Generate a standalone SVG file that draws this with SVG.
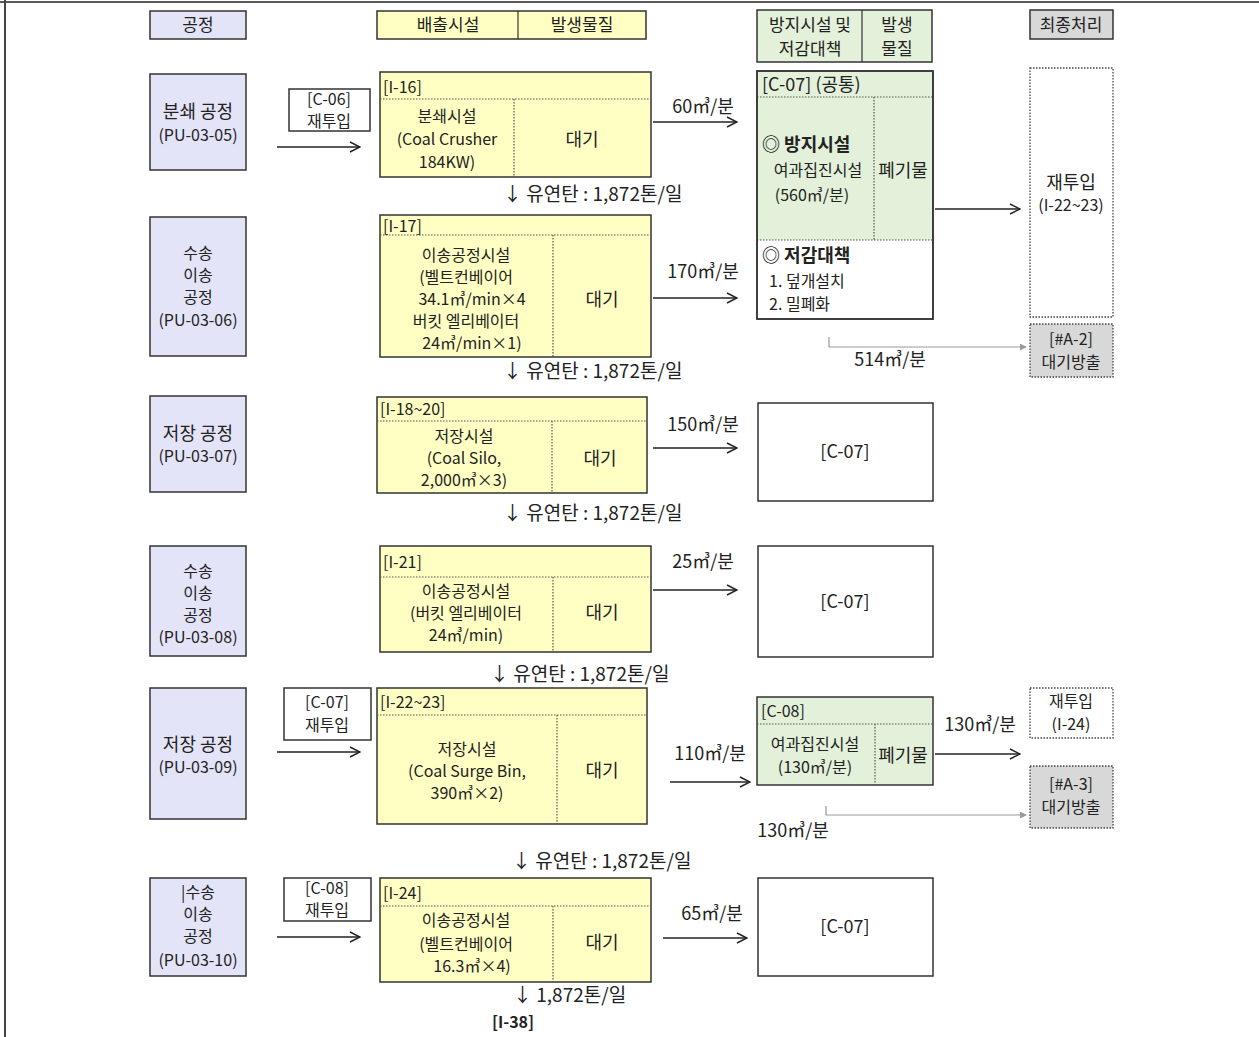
<svg xmlns="http://www.w3.org/2000/svg" width="1259" height="1037" viewBox="0 0 1259 1037">
<style>
text{font-family:"Noto Sans CJK KR","Noto Sans",sans-serif;font-size:16px;fill:#222;}
.m{text-anchor:middle;}
.b{font-weight:bold;}
.h{font-size:17px;}
.l{font-size:18px;}
.f{font-size:19px;}
.box{stroke:#333;stroke-width:1.5;}
.proc{fill:#e4e4f8;}
.yel{fill:#ffffc4;}
.grn{fill:#e3f0da;}
.wht{fill:#fff;}
.gry{fill:#d8d8d8;}
.dot{fill:none;stroke:#555;stroke-width:1.2;stroke-dasharray:1.5,1.5;}
.dbox{stroke:#444;stroke-width:1.3;stroke-dasharray:1.5,1.5;}
.arr{stroke:#222;stroke-width:1.5;fill:none;marker-end:url(#ah);}
.garr{stroke:#999;stroke-width:1.2;fill:none;marker-end:url(#gh);}
</style>
<defs>
<marker id="ah" viewBox="0 0 12 12" refX="11" refY="6" markerWidth="12" markerHeight="12" markerUnits="userSpaceOnUse" orient="auto"><polyline points="1,1 11,6 1,11" fill="none" stroke="#222" stroke-width="1.4"/></marker>
<marker id="gh" viewBox="0 0 8 8" refX="7" refY="4" markerWidth="7" markerHeight="7" markerUnits="userSpaceOnUse" orient="auto"><path d="M0,0 L8,4 L0,8 z" fill="#999"/></marker>
</defs>
<rect width="1259" height="1037" fill="#fff"/>
<line x1="0" y1="2" x2="1259" y2="2" stroke="#222" stroke-width="1.5"/>
<line x1="5" y1="0" x2="5" y2="1037" stroke="#444" stroke-width="2"/>

<!-- headers -->
<g id="hdr-process"><rect class="box proc" x="150" y="11" width="96" height="28"/><text class="m h" x="198" y="31">공정</text></g>
<g id="hdr-emission"><rect class="box yel" x="377" y="11" width="269" height="28"/><line x1="518" y1="11" x2="518" y2="39" stroke="#333" stroke-width="1.2"/><text class="m h" x="448" y="31">배출시설</text><text class="m h" x="582" y="31">발생물질</text></g>
<g id="hdr-control"><rect class="box grn" x="757" y="10" width="175" height="52"/><line x1="862" y1="10" x2="862" y2="62" stroke="#333" stroke-width="1.2"/><text class="m h" x="810" y="31">방지시설 및</text><text class="m h" x="810" y="55">저감대책</text><text class="m h" x="897" y="31">발생</text><text class="m h" x="897" y="55">물질</text></g>
<g id="hdr-final"><rect class="box gry" x="1030" y="10" width="83" height="29"/><text class="m h" x="1071" y="31">최종처리</text></g>

<!-- row 1 -->
<g id="p1"><rect class="box proc" x="150" y="74" width="96" height="96"/><text class="m l" x="198" y="118">분쇄 공정</text><text class="m" x="198" y="141">(PU-03-05)</text></g>
<g id="r1"><rect class="box wht" x="289" y="89" width="81" height="42"/><text class="m" x="329" y="105">[C-06]</text><text class="m" x="329" y="127">재투입</text></g>
<g id="I16"><rect class="box yel" x="380" y="72" width="271" height="105"/><line class="dot" x1="380" y1="99" x2="651" y2="99"/><line class="dot" x1="514" y1="99" x2="514" y2="177"/>
<text x="383" y="93">[I-16]</text><text class="m" x="447" y="122">분쇄시설</text><text class="m" x="447" y="145">(Coal Crusher</text><text class="m" x="447" y="168">184KW)</text><text class="m l" x="582" y="146">대기</text></g>
<g id="C07"><rect class="box wht" x="757" y="71" width="176" height="248"/><rect class="grn" x="758" y="72" width="174" height="168"/>
<line class="dot" x1="757" y1="97" x2="933" y2="97"/><line class="dot" x1="874" y1="97" x2="874" y2="240"/><line class="dot" x1="757" y1="240" x2="933" y2="240"/>
<rect x="757" y="71" width="176" height="248" fill="none" class="box"/>
<text class="l" x="762" y="91">[C-07] (공통)</text>
<text class="b l" x="762" y="151">◎ 방지시설</text><text class="m" x="818" y="176">여과집진시설</text><text class="m" x="812" y="201">(560㎥/분)</text><text class="m l" x="903" y="177">폐기물</text>
<text class="b l" x="762" y="262">◎ 저감대책</text><text x="769" y="287">1. 덮개설치</text><text x="769" y="310">2. 밀폐화</text></g>
<g id="F1"><rect class="dbox wht" x="1030" y="68" width="83" height="249"/><text class="m l" x="1071" y="189">재투입</text><text class="m" x="1071" y="211">(I-22~23)</text></g>
<g id="A2"><rect class="dbox gry" x="1030" y="324" width="83" height="53"/><text class="m" x="1071" y="345">[#A-2]</text><text class="m" x="1071" y="368">대기방출</text></g>

<!-- row 2 -->
<g id="p2"><rect class="box proc" x="150" y="217" width="96" height="139"/><text class="m" x="198" y="259">수송</text><text class="m" x="198" y="281">이송</text><text class="m" x="198" y="303">공정</text><text class="m" x="198" y="326">(PU-03-06)</text></g>
<g id="I17"><rect class="box yel" x="380" y="215" width="271" height="142"/><line class="dot" x1="380" y1="235" x2="651" y2="235"/><line class="dot" x1="553" y1="235" x2="553" y2="357"/>
<text x="383" y="232">[I-17]</text><text class="m" x="466" y="261">이송공정시설</text><text class="m" x="466" y="283">(벨트컨베이어</text><text class="m" x="472" y="305">34.1㎥/min×4</text><text class="m" x="466" y="327">버킷 엘리베이터</text><text class="m" x="472" y="349">24㎥/min×1)</text><text class="m l" x="602" y="306">대기</text></g>

<!-- row 3 -->
<g id="p3"><rect class="box proc" x="150" y="396" width="96" height="96"/><text class="m l" x="198" y="440">저장 공정</text><text class="m" x="198" y="462">(PU-03-07)</text></g>
<g id="I18"><rect class="box yel" x="377" y="397" width="270" height="96"/><line class="dot" x1="377" y1="421" x2="647" y2="421"/><line class="dot" x1="552" y1="421" x2="552" y2="493"/>
<text x="380" y="415">[I-18~20]</text><text class="m" x="464" y="442">저장시설</text><text class="m" x="464" y="464">(Coal Silo,</text><text class="m" x="464" y="486">2,000㎥×3)</text><text class="m l" x="600" y="465">대기</text></g>
<g id="C07b"><rect class="box wht" x="758" y="403" width="175" height="98"/><text class="m l" x="845" y="458">[C-07]</text></g>

<!-- row 4 -->
<g id="p4"><rect class="box proc" x="150" y="546" width="96" height="110"/><text class="m" x="198" y="577">수송</text><text class="m" x="198" y="599">이송</text><text class="m" x="198" y="621">공정</text><text class="m" x="198" y="643">(PU-03-08)</text></g>
<g id="I21"><rect class="box yel" x="380" y="546" width="271" height="106"/><line class="dot" x1="380" y1="577" x2="651" y2="577"/><line class="dot" x1="553" y1="577" x2="553" y2="652"/>
<text x="383" y="568">[I-21]</text><text class="m" x="466" y="597">이송공정시설</text><text class="m" x="466" y="619">(버킷 엘리베이터</text><text class="m" x="466" y="641">24㎥/min)</text><text class="m l" x="602" y="619">대기</text></g>
<g id="C07c"><rect class="box wht" x="758" y="546" width="175" height="111"/><text class="m l" x="845" y="608">[C-07]</text></g>

<!-- row 5 -->
<g id="p5"><rect class="box proc" x="150" y="688" width="96" height="131"/><text class="m l" x="198" y="751">저장 공정</text><text class="m" x="198" y="773">(PU-03-09)</text></g>
<g id="r5"><rect class="box wht" x="284" y="688" width="87" height="52"/><text class="m" x="327" y="708">[C-07]</text><text class="m" x="327" y="731">재투입</text></g>
<g id="I22"><rect class="box yel" x="377" y="688" width="270" height="136"/><line class="dot" x1="377" y1="715" x2="647" y2="715"/><line class="dot" x1="557" y1="715" x2="557" y2="824"/>
<text x="380" y="708">[I-22~23]</text><text class="m" x="467" y="755">저장시설</text><text class="m" x="467" y="777">(Coal Surge Bin,</text><text class="m" x="467" y="799">390㎥×2)</text><text class="m l" x="602" y="777">대기</text></g>
<g id="C08"><rect class="box grn" x="757" y="697" width="176" height="88"/><line class="dot" x1="757" y1="724" x2="933" y2="724"/><line class="dot" x1="875" y1="724" x2="875" y2="785"/>
<text x="761" y="717">[C-08]</text><text class="m" x="815" y="750">여과집진시설</text><text class="m" x="815" y="773">(130㎥/분)</text><text class="m l" x="903" y="762">폐기물</text></g>
<g id="F5"><rect class="dbox wht" x="1030" y="688" width="83" height="50"/><text class="m" x="1071" y="707">재투입</text><text class="m" x="1071" y="730">(I-24)</text></g>
<g id="A3"><rect class="dbox gry" x="1030" y="766" width="83" height="62"/><text class="m" x="1071" y="790">[#A-3]</text><text class="m" x="1071" y="813">대기방출</text></g>

<!-- row 6 -->
<g id="p6"><rect class="box proc" x="150" y="878" width="96" height="98"/><text class="m" x="198" y="898">|수송</text><text class="m" x="198" y="920">이송</text><text class="m" x="198" y="942">공정</text><text class="m" x="198" y="966">(PU-03-10)</text></g>
<g id="r6"><rect class="box wht" x="284" y="878" width="87" height="43"/><text class="m" x="327" y="894">[C-08]</text><text class="m" x="327" y="916">재투입</text></g>
<g id="I24"><rect class="box yel" x="380" y="878" width="271" height="104"/><line class="dot" x1="380" y1="906" x2="651" y2="906"/><line class="dot" x1="553" y1="906" x2="553" y2="982"/>
<text x="383" y="899">[I-24]</text><text class="m" x="466" y="926">이송공정시설</text><text class="m" x="466" y="950">(벨트컨베이어</text><text class="m" x="472" y="972">16.3㎥×4)</text><text class="m l" x="602" y="949">대기</text></g>
<g id="C07d"><rect class="box wht" x="758" y="878" width="175" height="98"/><text class="m l" x="845" y="933">[C-07]</text></g>
<g id="I38"><text class="b m" x="513" y="1028">[I-38]</text></g>

<!-- connectors -->
<g id="connectors">
<line class="arr" x1="277" y1="147" x2="360" y2="147"/>
<line class="arr" x1="653" y1="122" x2="737" y2="122"/>
<line class="arr" x1="935" y1="209" x2="1020" y2="209"/>
<polyline class="garr" points="829,337 829,347 1026,347"/>
<line class="arr" x1="653" y1="298" x2="737" y2="298"/>
<line class="arr" x1="653" y1="448" x2="737" y2="448"/>
<line class="arr" x1="653" y1="590" x2="737" y2="590"/>
<line class="arr" x1="277" y1="752" x2="360" y2="752"/>
<line class="arr" x1="670" y1="782" x2="750" y2="782"/>
<line class="arr" x1="935" y1="754" x2="1020" y2="754"/>
<polyline class="garr" points="826,806 826,815 1026,815"/>
<line class="arr" x1="277" y1="937" x2="360" y2="937"/>
<line class="arr" x1="663" y1="938" x2="747" y2="938"/>
<text class="m l" x="703" y="113">60㎥/분</text>
<text class="m l" x="703" y="278">170㎥/분</text>
<text class="m l" x="703" y="431">150㎥/분</text>
<text class="m l" x="703" y="568">25㎥/분</text>
<text class="m l" x="710" y="760">110㎥/분</text>
<text class="m l" x="980" y="731">130㎥/분</text>
<text class="m l" x="712" y="920">65㎥/분</text>
<text class="m l" x="890" y="366">514㎥/분</text>
<text class="m l" x="793" y="837">130㎥/분</text>
<text class="f" x="503" y="201">↓ 유연탄 : 1,872톤/일</text>
<text class="f" x="503" y="378">↓ 유연탄 : 1,872톤/일</text>
<text class="f" x="503" y="520">↓ 유연탄 : 1,872톤/일</text>
<text class="f" x="490" y="681">↓ 유연탄 : 1,872톤/일</text>
<text class="f" x="512" y="868">↓ 유연탄 : 1,872톤/일</text>
<text class="f" x="513" y="1002">↓ 1,872톤/일</text>
</g>
</svg>
